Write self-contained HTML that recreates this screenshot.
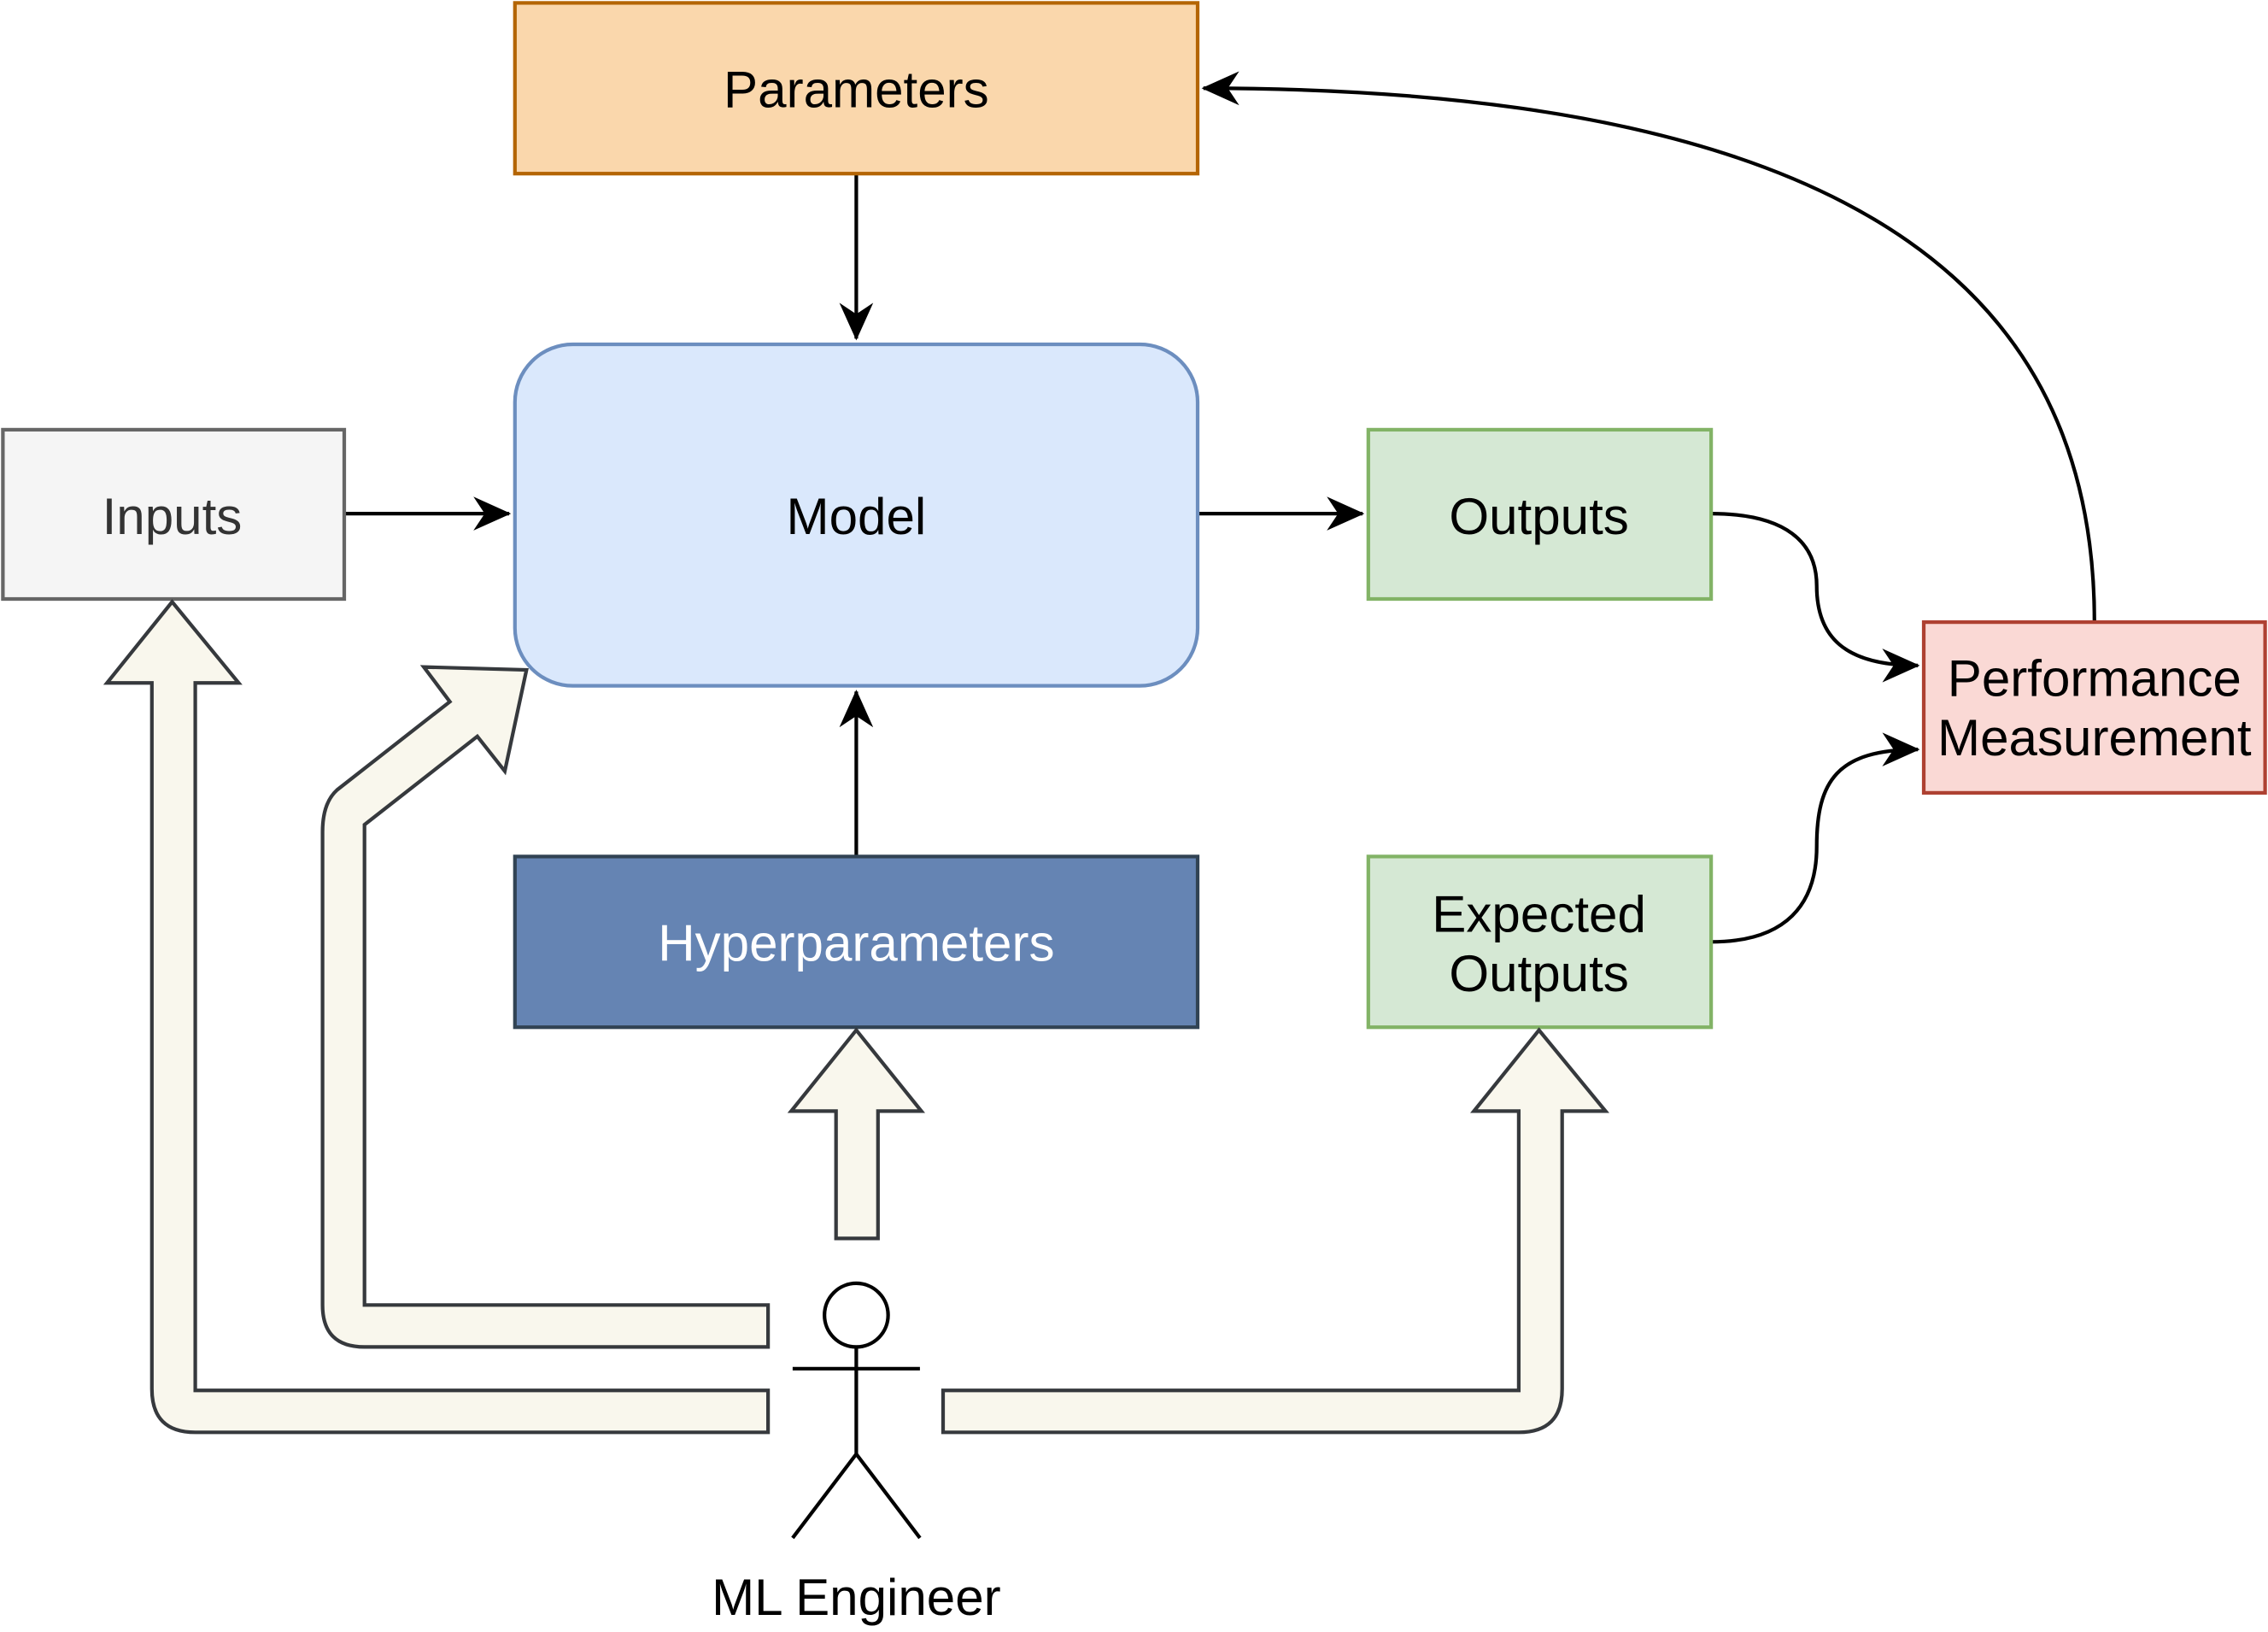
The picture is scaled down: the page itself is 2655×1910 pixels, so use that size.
<!DOCTYPE html>
<html><head><meta charset="utf-8"><style>
html,body{margin:0;padding:0;background:#fff;}
svg{display:block;}
text{font-family:"Liberation Sans",Arial,sans-serif;font-size:35.5px;text-anchor:middle;dominant-baseline:central;}
</style></head><body>
<svg width="2655" height="1910" viewBox="0 0 1568 1128" xmlns="http://www.w3.org/2000/svg">
<defs>
<marker id="ar" viewBox="0 0 20 20" refX="19" refY="10" markerWidth="26" markerHeight="26" markerUnits="userSpaceOnUse" orient="auto">
<path d="M0,1 L20,10 L0,19 L6,10 Z" fill="#000"/>
</marker>
</defs>
<rect width="1568" height="1128" fill="#fff"/>
<g stroke="#000" stroke-width="2.5" fill="none">
<path d="M592,120 L592,234" marker-end="url(#ar)"/>
<path d="M238,355 L352,355" marker-end="url(#ar)"/>
<path d="M828,355 L942,355" marker-end="url(#ar)"/>
<path d="M592,592 L592,478" marker-end="url(#ar)"/>
<path d="M1183,355 C1235,355 1256,375 1256,405 C1256,440 1275,460 1326,460" marker-end="url(#ar)"/>
<path d="M1183,651 C1235,651 1256,625 1256,585 C1256,540 1270,518 1326,518" marker-end="url(#ar)"/>
<path d="M1448,430 C1448,220 1310,61 832,61" marker-end="url(#ar)"/>
</g>
<rect x="356" y="2" width="472" height="118" fill="#fad7ac" stroke="#b46504" stroke-width="2.5"/>
<text x="592" y="62" fill="#000">Parameters</text>
<rect x="356" y="238" width="472" height="236" rx="40" fill="#dae8fc" stroke="#6c8ebf" stroke-width="2.5"/>
<text x="592" y="357" fill="#000">Model</text>
<rect x="2" y="297" width="236" height="117" fill="#f5f5f5" stroke="#666666" stroke-width="2.5"/>
<text x="119" y="357" fill="#333">Inputs</text>
<rect x="946" y="297" width="237" height="117" fill="#d5e8d4" stroke="#82b366" stroke-width="2.5"/>
<text x="1064" y="357" fill="#000">Outputs</text>
<rect x="946" y="592" width="237" height="118" fill="#d5e8d4" stroke="#82b366" stroke-width="2.5"/>
<text x="1064" y="632" fill="#000">Expected</text>
<text x="1064" y="673" fill="#000">Outputs</text>
<rect x="356" y="592" width="472" height="118" fill="#6584b3" stroke="#314354" stroke-width="2.5"/>
<text x="592" y="652" fill="#fff">Hyperparameters</text>
<rect x="1330" y="430" width="236" height="118" fill="#fad9d5" stroke="#ae4132" stroke-width="2.5"/>
<text x="1448" y="469" fill="#000">Performance</text>
<text x="1448" y="510" fill="#000">Measurement</text>
<g fill="#f9f7ed" stroke="#36393d" stroke-width="2.5" stroke-linejoin="miter">
<path d="M578,856 L578,768 L547,768 L592,712 L637,768 L607,768 L607,856 Z"/>
<path d="M652,961 L1050,961 L1050,768 L1019,768 L1064,712 L1110,768 L1080,768 L1080,960 Q1080,990 1050,990 L652,990 Z"/>
<path d="M531,961 L135,961 L135,472 L165,472 L119,416 L74,472 L105,472 L105,960 Q105,990 135,990 L531,990 Z"/>
<path d="M531,902 L252,902 L252,570 L330,509 L349,533 L364,463 L293,461 L311,485 L233,546 Q223,555 223,575 L223,902 Q223,931 252,931 L531,931 Z"/>
</g>
<g stroke="#000" stroke-width="2.5" fill="none">
<circle cx="592" cy="909" r="22" fill="#fff"/>
<path d="M592,931 L592,1005 M548,946 L636,946 M548,1063 L592,1005 L636,1063"/>
</g>
<text x="592" y="1104" fill="#000">ML Engineer</text>
</svg>
</body></html>
